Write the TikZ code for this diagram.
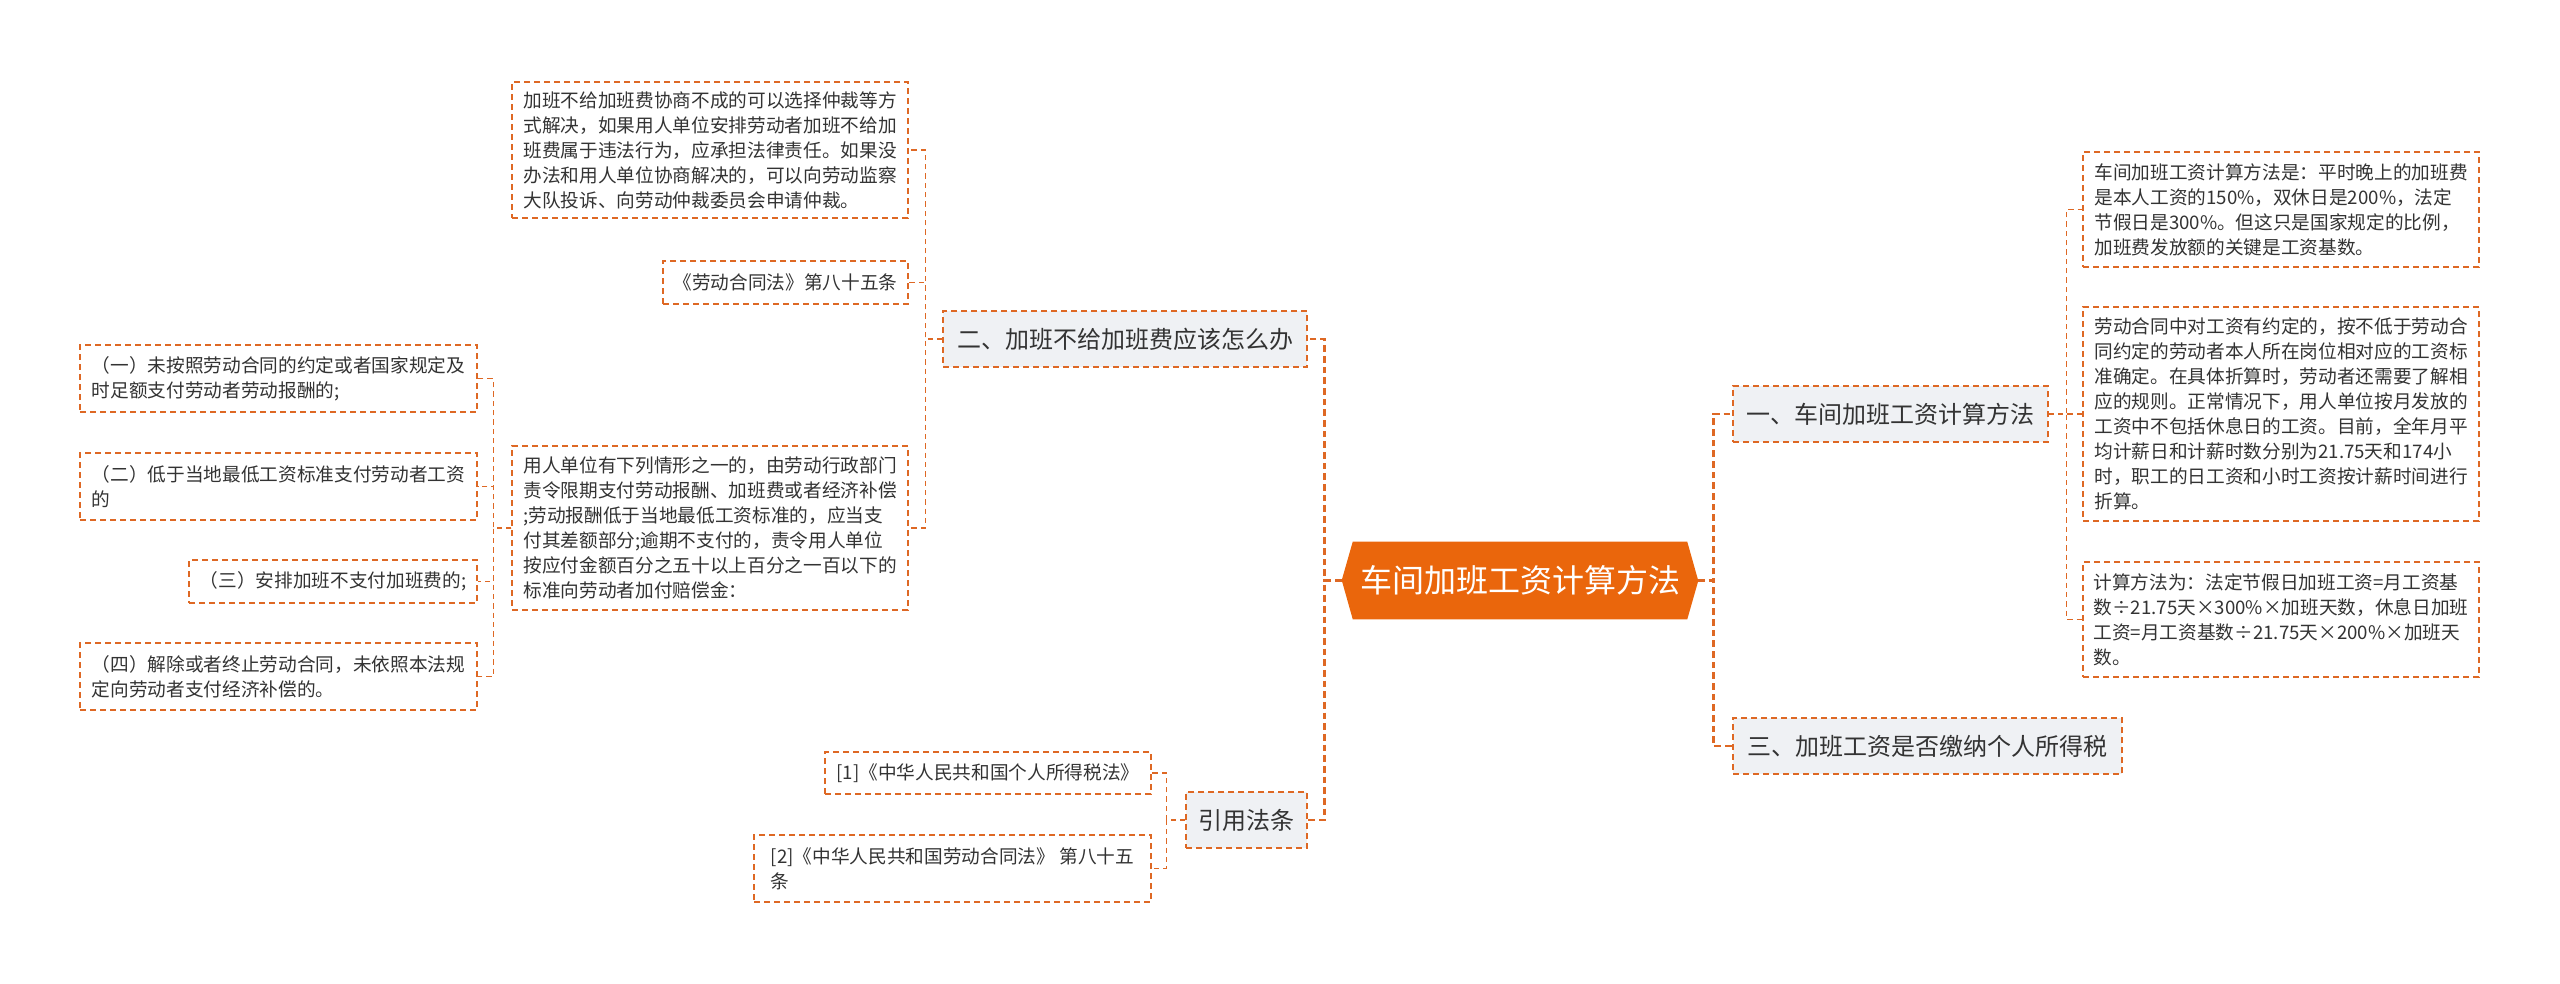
\documentclass[tikz,border=0pt]{standalone}
\usepackage{fontspec}
\setmainfont{Noto Sans CJK SC}
\usetikzlibrary{backgrounds}
\definecolor{mmorange}{RGB}{222,104,36}
\definecolor{rootorange}{RGB}{234,102,12}
\definecolor{topicgray}{RGB}{239,241,244}
\definecolor{inkgray}{RGB}{51,51,51}

\begin{document}
\begin{tikzpicture}[
  x=0.75pt, y=-0.75pt,
  leaf/.style={draw=mmorange,line width=1.1pt,dash pattern=on 4.5pt off 3pt,align=left,text=inkgray,
    font=\fontsize{14}{18.75}\selectfont,inner xsep=7.5pt,inner ysep=0pt},
  topic/.style={leaf,fill=topicgray,font=\fontsize{18}{22}\selectfont,minimum height=42pt},
  rootbox/.style={text=white,font=\fontsize{24}{28}\selectfont,minimum width=250.5pt,minimum height=57.75pt,inner sep=0pt},
  link/.style={draw=mmorange,line width=1.1pt,dash pattern=on 4pt off 3pt},
  mainlink/.style={draw=mmorange,line width=2.2pt,dash pattern=on 5pt off 3pt}
]
  \useasboundingbox (0,0) rectangle (2560,983);

  % centre
  \node[rootbox] (root) at (1520,580.5) {车间加班工资计算方法};
  \begin{scope}[on background layer]
    \fill[rootorange] (root.north west) -- ++(-11,38.5) coordinate (rootL) -- (root.south west)
      -- (root.south east) -- ++(11,-38.5) coordinate (rootR) -- (root.north east) -- cycle;
  \end{scope}

  % topics
  \node[topic,minimum width=236.25pt] (calc) at (1890.5,414) {一、车间加班工资计算方法};
  \node[topic,minimum width=291.75pt] (tax) at (1927.5,746) {三、加班工资是否缴纳个人所得税};
  \node[topic,minimum width=273pt] (unpaid) at (1125,339) {二、加班不给加班费应该怎么办};
  \node[topic,minimum width=90.75pt] (cite) at (1246.5,820) {引用法条};

  % right leaves
  \node[leaf,minimum width=297pt,minimum height=86.25pt] (calcA) at (2281,209.5)
    {车间加班工资计算方法是：平时晚上的加班费\\是本人工资的150\%，双休日是200\%，法定\\节假日是300\%。但这只是国家规定的比例，\\加班费发放额的关键是工资基数。};
  \node[leaf,minimum width=297pt,minimum height=160.5pt] (calcB) at (2281,414)
    {劳动合同中对工资有约定的，按不低于劳动合\\同约定的劳动者本人所在岗位相对应的工资标\\准确定。在具体折算时，劳动者还需要了解相\\应的规则。正常情况下，用人单位按月发放的\\工资中不包括休息日的工资。目前，全年月平\\均计薪日和计薪时数分别为21.75天和174小\\时，职工的日工资和小时工资按计薪时间进行\\折算。};
  \node[leaf,minimum width=297pt,minimum height=86.25pt] (calcC) at (2281,619.5)
    {计算方法为：法定节假日加班工资=月工资基\\数÷21.75天×300\%×加班天数，休息日加班\\工资=月工资基数÷21.75天×200\%×加班天\\数。};

  % left leaves
  \node[leaf,minimum width=297pt,minimum height=102pt] (talk) at (710,150)
    {加班不给加班费协商不成的可以选择仲裁等方\\式解决，如果用人单位安排劳动者加班不给加\\班费属于违法行为，应承担法律责任。如果没\\办法和用人单位协商解决的，可以向劳动监察\\大队投诉、向劳动仲裁委员会申请仲裁。};
  \node[leaf,minimum width=183.75pt,minimum height=32.25pt] (art) at (785.5,282.5)
    {《劳动合同法》第八十五条};
  \node[leaf,minimum width=297pt,minimum height=123pt] (duty) at (710,528)
    {用人单位有下列情形之一的，由劳动行政部门\\责令限期支付劳动报酬、加班费或者经济补偿\\;劳动报酬低于当地最低工资标准的，应当支\\付其差额部分;逾期不支付的，责令用人单位\\按应付金额百分之五十以上百分之一百以下的\\标准向劳动者加付赔偿金：};
  \node[leaf,minimum width=297.75pt,minimum height=50.25pt] (caseA) at (278.5,378.5)
    {（一）未按照劳动合同的约定或者国家规定及\\时足额支付劳动者劳动报酬的;};
  \node[leaf,minimum width=297.75pt,minimum height=50.25pt] (caseB) at (278.5,486.5)
    {（二）低于当地最低工资标准支付劳动者工资\\的};
  \node[leaf,minimum width=216pt,minimum height=32.25pt] (caseC) at (333,581.5)
    {（三）安排加班不支付加班费的;};
  \node[leaf,minimum width=297.75pt,minimum height=50.25pt] (caseD) at (278.5,676.5)
    {（四）解除或者终止劳动合同，未依照本法规\\定向劳动者支付经济补偿的。};
  \node[leaf,minimum width=244.5pt,minimum height=31.5pt] (lawA) at (988,773)
    {[1]《中华人民共和国个人所得税法》};
  \node[leaf,minimum width=297.75pt,minimum height=50.25pt] (lawB) at (952.5,868.5)
    {[2]《中华人民共和国劳动合同法》 第八十五\\条};

  % connectors
  \draw[mainlink] (rootL) -- ++(-17,0) |- (unpaid.east);
  \draw[mainlink] (rootL) -- ++(-17,0) |- (cite.east);
  \draw[mainlink] (rootR) -- ++(15,0) |- (calc.west);
  \draw[mainlink] (rootR) -- ++(15,0) |- (tax.west);
  \foreach \c in {calcA,calcB,calcC}
    \draw[link] (calc.east) -- ++(18,0) |- (\c.west);
  \foreach \c in {talk,art,duty}
    \draw[link] (unpaid.west) -- ++(-17,0) |- (\c.east);
  \foreach \c in {caseA,caseB,caseC,caseD}
    \draw[link] (duty.west) -- ++(-18,0) |- (\c.east);
  \foreach \c in {lawA,lawB}
    \draw[link] (cite.west) -- ++(-19,0) |- (\c.east);
\end{tikzpicture}
\end{document}
